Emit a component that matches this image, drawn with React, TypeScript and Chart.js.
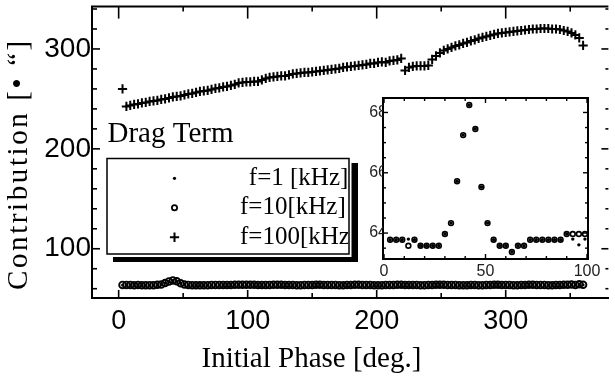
import React, { useEffect, useRef } from 'react';
import { Chart, registerables } from 'chart.js';

Chart.register(...registerables);

// ---------- data ----------
const phase = [
  3, 6, 9, 12, 15, 18, 21, 24, 27, 30,
  33, 36, 39, 42, 45, 48, 51, 54, 57, 60,
  63, 66, 69, 72, 75, 78, 81, 84, 87, 90,
  93, 96, 99, 102, 105, 108, 111, 114, 117, 120,
  123, 126, 129, 132, 135, 138, 141, 144, 147, 150,
  153, 156, 159, 162, 165, 168, 171, 174, 177, 180,
  183, 186, 189, 192, 195, 198, 201, 204, 207, 210,
  213, 216, 219, 222, 225, 228, 231, 234, 237, 240,
  243, 246, 249, 252, 255, 258, 261, 264, 267, 270,
  273, 276, 279, 282, 285, 288, 291, 294, 297, 300,
  303, 306, 309, 312, 315, 318, 321, 324, 327, 330,
  333, 336, 339, 342, 345, 348, 351, 354, 357, 360,
];

const f1kHz = [
  63.78, 63.78, 63.78, 63.8, 63.78, 63.58, 63.58, 63.58, 63.58, 63.97,
  64.33, 65.72, 67.25, 68.25, 67.45, 65.53, 64.33, 63.78, 63.58, 63.58,
  63.37, 63.58, 63.58, 63.78, 63.78, 63.78, 63.78, 63.78, 63.78, 63.97,
  63.8, 63.61, 63.8, 63.97, 63.97, 63.78, 63.78, 63.78, 63.78, 63.97,
  63.97, 63.97, 63.78, 63.78, 63.78, 63.58, 63.58, 63.78, 63.78, 63.78,
  63.97, 63.97, 63.78, 63.78, 63.78, 63.78, 63.58, 63.58, 63.78, 63.78,
  63.97, 63.97, 63.78, 63.78, 63.78, 63.58, 63.58, 63.58, 63.78, 63.78,
  63.78, 63.97, 63.97, 63.78, 63.78, 63.78, 63.78, 63.58, 63.58, 63.78,
  63.78, 63.97, 63.97, 63.97, 63.78, 63.78, 63.78, 63.58, 63.58, 63.58,
  63.78, 63.78, 63.58, 63.58, 63.78, 63.78, 63.97, 63.97, 63.78, 63.78,
  63.78, 63.58, 63.58, 63.78, 63.78, 63.97, 63.97, 63.78, 63.78, 63.78,
  63.58, 63.58, 63.78, 63.78, 63.97, 63.97, 64.17, 63.4, 63.97, 63.97,
];

const f10kHz = [
  63.78, 63.78, 63.78, 63.58, 63.78, 63.58, 63.58, 63.58, 63.58, 63.97,
  64.33, 65.72, 67.25, 68.25, 67.45, 65.53, 64.33, 63.78, 63.58, 63.58,
  63.37, 63.58, 63.58, 63.78, 63.78, 63.78, 63.78, 63.78, 63.78, 63.97,
  63.97, 63.97, 63.97, 63.97, 63.97, 63.78, 63.78, 63.78, 63.78, 63.97,
  63.97, 63.97, 63.78, 63.78, 63.78, 63.58, 63.58, 63.78, 63.78, 63.78,
  63.97, 63.97, 63.78, 63.78, 63.78, 63.78, 63.58, 63.58, 63.78, 63.78,
  63.97, 63.97, 63.78, 63.78, 63.78, 63.58, 63.58, 63.58, 63.78, 63.78,
  63.78, 63.97, 63.97, 63.78, 63.78, 63.78, 63.78, 63.58, 63.58, 63.78,
  63.78, 63.97, 63.97, 63.97, 63.78, 63.78, 63.78, 63.58, 63.58, 63.58,
  63.78, 63.78, 63.58, 63.58, 63.78, 63.78, 63.97, 63.97, 63.78, 63.78,
  63.78, 63.58, 63.58, 63.78, 63.78, 63.97, 63.97, 63.78, 63.78, 63.78,
  63.58, 63.58, 63.78, 63.78, 63.97, 63.97, 64.17, 63.78, 64.37, 63.97,
];

const f100kHz = [
  260, 242.5, 243.5, 244.5, 245, 246, 246.5, 247.5, 248, 248.5,
  249.5, 250, 251, 252, 252.5, 253, 254, 255, 255.5, 256.5,
  257.5, 258, 258.5, 259.5, 260.5, 261, 262, 262.5, 263.5, 264.5,
  266, 266.5, 267, 267, 267.5, 267.5, 269, 270.5, 271.5, 272,
  272.5, 273, 273, 274, 275, 275.5, 276, 276.5, 276.5, 277,
  277.5, 278, 278.5, 279, 279.5, 280, 280.5, 281.5, 282, 282.5,
  283, 283.5, 284, 284.5, 285.5, 285.5, 286.5, 287, 286.5, 288,
  288.5, 289, 290.5, 278.5, 281.5, 282.5, 283, 283, 283, 283.5,
  289.5, 293, 296, 298.5, 300, 301.5, 303, 304, 305.5, 306.5,
  308, 309, 310.5, 311.5, 312.5, 313.5, 314.5, 315.5, 316, 316.5,
  317, 317.5, 318, 318.5, 319, 319.5, 320, 320, 320.5, 320.5,
  320.5, 320, 320, 319.5, 318.5, 317.5, 316, 314, 311, 303.5,
];

const seriesLabels = ['f=1 [kHz]', 'f=10[kHz]', 'f=100[kHz]'];
const legendTitle = 'Drag Term';
const xTitle = 'Initial Phase [deg.]';
const yTitle = 'Contribution [• “]';

const xMajor = [0, 100, 200, 300];
const xMinor = [50, 150, 250, 350];
const yMajor = [100, 200, 300];
const yMinor = [60, 80, 120, 140, 160, 180, 220, 240, 260, 280, 320, 340];

const insetXMajor = [0, 50, 100];
const insetXMinor = [10, 20, 30, 40, 60, 70, 80, 90];
const insetYMajor = [64, 66, 68];
const insetYMinor = [63.5, 64.5, 65, 65.5, 66.5, 67, 67.5];

const SERIF = '"Liberation Serif", "Times New Roman", Times, serif';
const SANS = '"Liberation Sans", Arial, Helvetica, sans-serif';

type Lens = { bMaj: number; bMin: number; tMaj: number; tMin: number; lMaj: number; lMin: number; rMaj: number; rMin: number };

function zeroPad(s: any) {
  s.paddingTop = 0;
  s.paddingBottom = 0;
  s.paddingLeft = 0;
  s.paddingRight = 0;
}

function makeFramePlugin(o: {
  xMajor: number[]; xMinor: number[]; yMajor: number[]; yMinor: number[];
  frame: number; tickW: number; len: Lens; drawRight: boolean;
}) {
  return {
    id: 'frameTicks',
    afterDatasetsDraw(chart: any) {
      const { ctx, chartArea: a, scales } = chart;
      const xs = scales.x;
      const ys = scales.y;
      ctx.save();
      ctx.strokeStyle = '#000';
      ctx.lineCap = 'butt';
      ctx.lineWidth = o.frame;
      ctx.beginPath();
      ctx.moveTo(a.left - 1, a.top);
      ctx.lineTo(a.right + (o.drawRight ? 1 : 0), a.top);
      ctx.stroke();
      if (o.drawRight) {
        ctx.beginPath();
        ctx.moveTo(a.right, a.top - 1);
        ctx.lineTo(a.right, a.bottom + 1);
        ctx.stroke();
      }
      ctx.lineWidth = o.tickW;
      const seg = (x1: number, y1: number, x2: number, y2: number) => {
        ctx.beginPath();
        ctx.moveTo(x1, y1);
        ctx.lineTo(x2, y2);
        ctx.stroke();
      };
      const L = o.len;
      const xt = (vals: number[], maj: boolean) =>
        vals.forEach((v) => {
          const p = xs.getPixelForValue(v);
          if (p < a.left - 0.5 || p > a.right + 0.5) return;
          seg(p, a.bottom, p, a.bottom - (maj ? L.bMaj : L.bMin));
          seg(p, a.top, p, a.top + (maj ? L.tMaj : L.tMin));
        });
      const yt = (vals: number[], maj: boolean) =>
        vals.forEach((v) => {
          const p = ys.getPixelForValue(v);
          if (p < a.top - 0.5 || p > a.bottom + 0.5) return;
          seg(a.left, p, a.left + (maj ? L.lMaj : L.lMin), p);
          seg(a.right, p, a.right - (maj ? L.rMaj : L.rMin), p);
        });
      xt(o.xMajor, true);
      xt(o.xMinor, false);
      yt(o.yMajor, true);
      yt(o.yMinor, false);
      ctx.restore();
    },
  };
}

const annotationPlugin = {
  id: 'mainAnnotations',
  afterDraw(chart: any) {
    const ctx = chart.ctx as CanvasRenderingContext2D;
    ctx.save();
    ctx.fillStyle = '#000';
    ctx.textAlign = 'left';
    ctx.textBaseline = 'alphabetic';

    // legend title
    ctx.font = `29px ${SERIF}`;
    ctx.fillText(legendTitle, 107.5, 141.7);

    // legend box with shadow
    ctx.fillStyle = '#000';
    ctx.fillRect(113, 163, 245, 99);
    ctx.fillStyle = '#fff';
    ctx.fillRect(105, 156, 246.5, 101);
    ctx.strokeStyle = '#000';
    ctx.lineWidth = 1.5;
    ctx.strokeRect(107, 158.5, 242, 95.5);

    const mx = 174.5;
    const rowY = (i: number) => 178.3 + i * 29.5;
    // markers
    ctx.fillStyle = '#000';
    ctx.beginPath();
    ctx.arc(mx, rowY(0), 1.6, 0, Math.PI * 2);
    ctx.fill();
    ctx.lineWidth = 1.8;
    ctx.beginPath();
    ctx.arc(mx, rowY(1), 2.6, 0, Math.PI * 2);
    ctx.stroke();
    ctx.lineWidth = 2;
    ctx.beginPath();
    ctx.moveTo(mx - 4.6, rowY(2));
    ctx.lineTo(mx + 4.6, rowY(2));
    ctx.moveTo(mx, rowY(2) - 4.8);
    ctx.lineTo(mx, rowY(2) + 4.8);
    ctx.stroke();

    // labels (clipped by the box)
    ctx.save();
    ctx.beginPath();
    ctx.rect(108, 159.5, 240.2, 93.5);
    ctx.clip();
    ctx.font = `25px ${SERIF}`;
    seriesLabels.forEach((lab, i) => {
      if (i === 0) {
        ctx.textAlign = 'right';
        ctx.fillText(lab, 348.3, rowY(i) + 6.5);
      } else {
        ctx.textAlign = 'left';
        ctx.fillText(lab, 240, rowY(i) + 6.5);
      }
    });
    ctx.restore();

    // axis titles
    ctx.fillStyle = '#000';
    ctx.font = `29px ${SERIF}`;
    ctx.textAlign = 'left';
    ctx.fillText(xTitle, 201.5, 366.7);
    ctx.save();
    ctx.translate(27, 290);
    ctx.rotate(-Math.PI / 2);
    (ctx as any).letterSpacing = '2.6px';
    ctx.fillText(yTitle, 0, 0);
    ctx.restore();

    ctx.restore();
  },
};

export default function App() {
  const mainRef = useRef<HTMLCanvasElement>(null);
  const insetRef = useRef<HTMLCanvasElement>(null);

  useEffect(() => {
    const pts = (ys: number[]) => phase.map((x, i) => ({ x, y: ys[i] }));

    const main = new Chart(mainRef.current as HTMLCanvasElement, {
      type: 'scatter',
      data: {
        datasets: [
          {
            label: seriesLabels[0],
            data: pts(f1kHz),
            pointStyle: 'circle',
            pointRadius: 1.5,
            pointBorderWidth: 0,
            backgroundColor: '#000',
            borderColor: '#000',
            order: 0,
          },
          {
            label: seriesLabels[1],
            data: pts(f10kHz),
            pointStyle: 'circle',
            pointRadius: 3.3,
            pointBorderWidth: 1.9,
            backgroundColor: 'rgba(0,0,0,0)',
            borderColor: '#000',
            order: 1,
          },
          {
            label: seriesLabels[2],
            data: pts(f100kHz),
            pointStyle: 'cross',
            pointRadius: 4.6,
            pointBorderWidth: 2,
            backgroundColor: '#000',
            borderColor: '#000',
            order: 2,
          },
        ],
      },
      options: {
        animation: false,
        responsive: false,
        maintainAspectRatio: false,
        events: [],
        layout: { padding: { top: 4, right: 0, left: 0, bottom: 0 } },
        plugins: { legend: { display: false }, tooltip: { enabled: false } },
        scales: {
          x: {
            type: 'linear',
            position: 'bottom',
            min: -20.66,
            max: 379.6,
            grid: { display: false, drawTicks: false },
            border: { display: true, color: '#000', width: 2 },
            ticks: {
              font: { family: SANS, size: 27 },
              color: '#000',
              padding: 7,
              maxRotation: 0,
              autoSkip: false,
            },
            afterBuildTicks: (s: any) => {
              s.ticks = xMajor.map((v) => ({ value: v }));
            },
            afterFit: (s: any) => {
              s.height = 82;
              zeroPad(s);
            },
          },
          y: {
            type: 'linear',
            position: 'left',
            min: 50.7,
            max: 342.4,
            grid: { display: false, drawTicks: false },
            border: { display: true, color: '#000', width: 2 },
            ticks: {
              font: { family: SANS, size: 28 },
              color: '#000',
              padding: 1,
              autoSkip: false,
            },
            afterBuildTicks: (s: any) => {
              s.ticks = yMajor.map((v) => ({ value: v }));
            },
            afterFit: (s: any) => {
              s.width = 92;
              zeroPad(s);
            },
          },
        },
      },
      plugins: [
        makeFramePlugin({
          xMajor, xMinor, yMajor, yMinor,
          frame: 2, tickW: 1.6, drawRight: false,
          len: { bMaj: 8, bMin: 5, tMaj: 12, tMin: 5, lMaj: 8, lMin: 5, rMaj: 7, rMin: 3 },
        }),
        annotationPlugin,
      ],
    } as any);

    const inset = new Chart(insetRef.current as HTMLCanvasElement, {
      type: 'scatter',
      data: {
        datasets: [
          {
            label: seriesLabels[0],
            data: pts(f1kHz),
            pointStyle: 'circle',
            pointRadius: 1.7,
            pointBorderWidth: 0,
            backgroundColor: '#000',
            borderColor: '#000',
            order: 0,
          },
          {
            label: seriesLabels[1],
            data: pts(f10kHz),
            pointStyle: 'circle',
            pointRadius: 2.4,
            pointBorderWidth: 1.6,
            backgroundColor: 'rgba(0,0,0,0)',
            borderColor: '#000',
            order: 1,
          },
        ],
      },
      options: {
        animation: false,
        responsive: false,
        maintainAspectRatio: false,
        events: [],
        layout: { padding: { top: 8, right: 17, left: 0, bottom: 0 } },
        plugins: { legend: { display: false }, tooltip: { enabled: false } },
        scales: {
          x: {
            type: 'linear',
            position: 'bottom',
            min: -0.5,
            max: 100.5,
            grid: { display: false, drawTicks: false },
            border: { display: true, color: '#000', width: 2 },
            ticks: {
              font: { family: SANS, size: 16 },
              color: '#222',
              padding: 3,
              maxRotation: 0,
              autoSkip: false,
            },
            afterBuildTicks: (s: any) => {
              s.ticks = insetXMajor.map((v) => ({ value: v }));
            },
            afterFit: (s: any) => {
              s.height = 26;
              zeroPad(s);
            },
          },
          y: {
            type: 'linear',
            position: 'left',
            min: 63.14,
            max: 68.48,
            grid: { display: false, drawTicks: false },
            border: { display: true, color: '#000', width: 2 },
            ticks: {
              font: { family: SANS, size: 16 },
              color: '#222',
              padding: -4,
              autoSkip: false,
            },
            afterBuildTicks: (s: any) => {
              s.ticks = insetYMajor.map((v) => ({ value: v }));
            },
            afterFit: (s: any) => {
              s.width = 28;
              zeroPad(s);
            },
          },
        },
      },
      plugins: [
        makeFramePlugin({
          xMajor: insetXMajor, xMinor: insetXMinor, yMajor: insetYMajor, yMinor: insetYMinor,
          frame: 2, tickW: 1.4, drawRight: true,
          len: { bMaj: 5, bMin: 3, tMaj: 5, tMin: 3, lMaj: 5, lMin: 3, rMaj: 5, rMin: 3 },
        }),
      ],
    } as any);

    return () => {
      main.destroy();
      inset.destroy();
    };
  }, []);

  return (
    <div
      style={{
        position: 'fixed',
        left: 0,
        top: 0,
        width: 615,
        height: 380,
        overflow: 'hidden',
        background: '#fff',
      }}
    >
      <canvas
        ref={mainRef}
        width={615}
        height={380}
        style={{ position: 'absolute', left: 0, top: 0, width: 615, height: 380 }}
      />
      <canvas
        ref={insetRef}
        width={250}
        height={195}
        style={{ position: 'absolute', left: 355, top: 90, width: 250, height: 195 }}
      />
    </div>
  );
}
